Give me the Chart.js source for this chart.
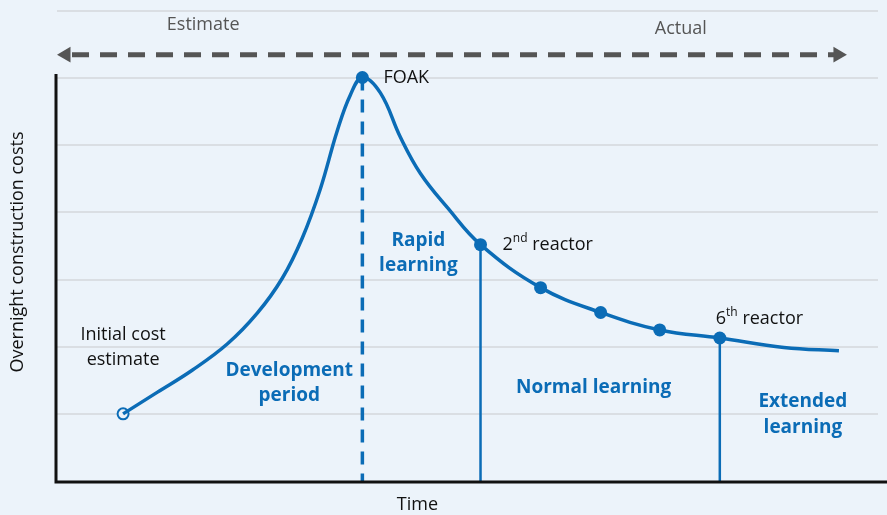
<!DOCTYPE html>
<html>
<head>
<meta charset="utf-8">
<script src="https://cdn.jsdelivr.net/npm/chart.js@4.4.1/dist/chart.umd.min.js"></script>
<style>
  body { margin: 0; background: #ecf3fa; }
  #wrap { width: 887px; height: 515px; position: relative; }
</style>
</head>
<body>
<div id="wrap"><canvas id="costChart"></canvas></div>
<script>
// cost curve (x = time, y = cost, arbitrary units)
const curveX = [6.6, 10.0, 13.5, 17.0, 20.0, 22.5, 24.5, 26.3, 28.0, 29.3, 30.5, 32.3, 34.3, 36.3, 39.0, 42.3, 48.3, 54.3, 60.2, 66.2, 72.6, 78.1];
const curveY = [1.0, 1.32, 1.65, 2.04, 2.5, 3.02, 3.62, 4.35, 5.22, 5.75, 6.01, 5.78, 5.12, 4.58, 4.07, 3.52, 2.88, 2.51, 2.25, 2.13, 1.99, 1.94];

const initialX = [6.6];
const initialY = [1.0];
const foakX = [30.5];
const foakY = [6.01];
const reactorX = [42.3, 48.3, 54.3, 60.2, 66.2];
const reactorY = [3.52, 2.88, 2.51, 2.25, 2.13];

const arrowX = [0.9, 78.0];
const arrowY = [6.35, 6.35];

const blue = '#0b6cb6';
const grey = '#555555';

function pts(xs, ys) {
  return xs.map((x, i) => ({ x: x, y: ys[i] }));
}

const regular = '18px "Open Sans"';
const bold = 'bold 19px "Open Sans"';

const labels = [
  { text: 'Estimate', x: 14.6, y: 6.8, color: grey, font: regular },
  { text: 'Actual', x: 62.3, y: 6.73, color: grey, font: regular },
  { text: 'FOAK', x: 32.6, y: 6.01, color: '#111', font: regular, align: 'left' },
  { text: 'Initial cost', x: 6.6, y: 2.17, color: '#111', font: regular },
  { text: 'estimate', x: 6.6, y: 1.8, color: '#111', font: regular },
  { text: 'Development', x: 23.2, y: 1.64, color: blue, font: bold },
  { text: 'period', x: 23.2, y: 1.27, color: blue, font: bold },
  { text: 'Rapid', x: 36.1, y: 3.58, color: blue, font: bold },
  { text: 'learning', x: 36.1, y: 3.21, color: blue, font: bold },
  { text: 'Normal learning', x: 53.6, y: 1.39, color: blue, font: bold },
  { text: 'Extended', x: 74.5, y: 1.18, color: blue, font: bold },
  { text: 'learning', x: 74.5, y: 0.79, color: blue, font: bold },
];

const sups = [
  { base: '2', sup: 'nd', rest: ' reactor', x: 44.5, y: 3.52 },
  { base: '6', sup: 'th', rest: ' reactor', x: 65.8, y: 2.42 },
];

const annotations = {
  id: 'annotations',
  beforeDraw(chart) {
    const ctx = chart.ctx;
    ctx.save();
    ctx.fillStyle = '#ecf3fa';
    ctx.fillRect(0, 0, chart.width, chart.height);
    ctx.restore();
  },
  afterDatasetsDraw(chart) {
    const ctx = chart.ctx;
    const xs = chart.scales.x;
    const ys = chart.scales.y;
    ctx.save();
    // axis lines
    ctx.strokeStyle = '#111';
    ctx.lineWidth = 3;
    ctx.beginPath();
    ctx.moveTo(xs.getPixelForValue(0) - 1, ys.getPixelForValue(6.06));
    ctx.lineTo(xs.getPixelForValue(0) - 1, ys.getPixelForValue(0) + 1);
    ctx.lineTo(chart.width, ys.getPixelForValue(0) + 1);
    ctx.stroke();

    ctx.textBaseline = 'middle';
    labels.forEach((l) => {
      ctx.font = l.font;
      ctx.fillStyle = l.color;
      ctx.textAlign = l.align || 'center';
      ctx.fillText(l.text, xs.getPixelForValue(l.x), ys.getPixelForValue(l.y));
    });

    ctx.textAlign = 'left';
    ctx.fillStyle = '#111';
    sups.forEach((s) => {
      let px = xs.getPixelForValue(s.x);
      const py = ys.getPixelForValue(s.y);
      ctx.font = regular;
      ctx.fillText(s.base, px, py);
      px += ctx.measureText(s.base).width;
      ctx.font = '12px "Open Sans"';
      ctx.fillText(s.sup, px, py - 6);
      px += ctx.measureText(s.sup).width;
      ctx.font = regular;
      ctx.fillText(s.rest, px, py);
    });

    // axis titles
    ctx.font = regular;
    ctx.textAlign = 'center';
    ctx.fillText('Time', xs.getPixelForValue(36.0), 505);
    ctx.translate(18, 252);
    ctx.rotate(-Math.PI / 2);
    ctx.fillText('Overnight construction costs', 0, 0);
    ctx.restore();
  }
};

const ctx = document.getElementById('costChart').getContext('2d');

new Chart(ctx, {
  type: 'scatter',
  data: {
    datasets: [
      {
        data: pts(arrowX, arrowY),
        showLine: true,
        borderColor: grey,
        borderWidth: 5,
        borderDash: [17, 11],
        borderDashOffset: -6,
        pointStyle: 'triangle',
        pointRotation: [-90, 90],
        pointRadius: 9,
        pointBackgroundColor: grey,
        pointBorderWidth: 0,
      },
      {
        data: pts([foakX[0], foakX[0]], [foakY[0], 0]),
        showLine: true,
        borderColor: blue,
        borderWidth: 3.5,
        borderDash: [13, 9],
        pointRadius: 0,
      },
      {
        data: pts([reactorX[0], reactorX[0]], [reactorY[0], 0]),
        showLine: true,
        borderColor: blue,
        borderWidth: 2.5,
        pointRadius: 0,
      },
      {
        data: pts([reactorX[4], reactorX[4]], [reactorY[4], 0]),
        showLine: true,
        borderColor: blue,
        borderWidth: 2.5,
        pointRadius: 0,
      },
      {
        data: pts(curveX, curveY),
        showLine: true,
        borderColor: blue,
        borderWidth: 3.5,
        tension: 0.4,
        pointRadius: 0,
      },
      {
        data: pts(foakX.concat(reactorX), foakY.concat(reactorY)),
        pointRadius: 6.5,
        pointBackgroundColor: blue,
        pointBorderWidth: 0,
      },
      {
        data: pts(initialX, initialY),
        pointRadius: 5.5,
        pointBackgroundColor: '#ecf3fa',
        pointBorderColor: blue,
        pointBorderWidth: 2,
      },
    ]
  },
  options: {
    responsive: true,
    maintainAspectRatio: false,
    animation: false,
    layout: { padding: { left: 57, right: 0, top: 11, bottom: 34 } },
    plugins: {
      legend: { display: false },
      tooltip: { enabled: false },
    },
    scales: {
      x: {
        type: 'linear',
        min: 0,
        max: 82,
        display: false,
      },
      y: {
        type: 'linear',
        min: 0,
        max: 7,
        display: true,
        border: { display: false },
        ticks: { display: false, stepSize: 1 },
        grid: {
          drawTicks: false,
          color: (c) => (c.tick.value === 0 ? 'rgba(0,0,0,0)' : '#dadee3'),
          lineWidth: 2,
        },
      },
    },
  },
  plugins: [annotations],
});
</script>
</body>
</html>
